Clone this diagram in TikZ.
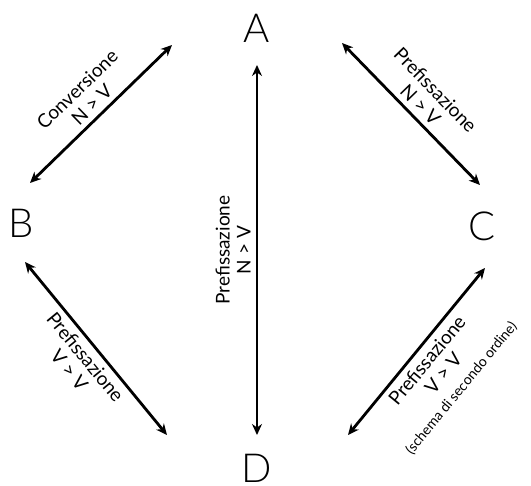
\documentclass[tikz,border=0pt]{standalone}
\usepackage{fontspec}
\setmainfont{Lato}
\newfontfamily\thinfont{Lato Light}
\usetikzlibrary{arrows.meta}
\begin{document}
\begin{tikzpicture}[x=1pt, y=-1pt, every node/.style={font=\fontsize{19}{21}\selectfont},
    letter/.style={font=\thinfont\fontsize{40}{40}\selectfont, inner sep=0pt},
    twoway/.style={{Stealth[length=11pt,width=10pt]}-{Stealth[length=11pt,width=10pt]}, line width=2.8pt},
    lbl/.style={midway, sloped, align=center, inner sep=5pt}]
    \useasboundingbox (0,0) rectangle (531,486);
    \node[letter] (a) at (257,28) {A};
    \node[letter] (b) at (21,223) {B};
    \node[letter] (c) at (482,226) {C};
    \node[letter] (d) at (257,468) {D};
    % arrow ends
    \coordinate (ab1) at (172,45);
    \coordinate (ab2) at (30,183);
    \coordinate (ac1) at (342,43);
    \coordinate (ac2) at (480,185);
    \coordinate (ad1) at (257,65);
    \coordinate (ad2) at (257,435);
    \coordinate (bd1) at (25,262);
    \coordinate (bd2) at (167,435);
    \coordinate (cd1) at (348,435);
    \coordinate (cd2) at (485,268);
    \draw[twoway] (ab2) -- node[lbl, above] {Conversione\\N > V} (ab1);
    \draw[twoway] (ac1) -- node[lbl, above] {Prefissazione\\N > V} (ac2);
    \draw[twoway] (ad2) -- node[lbl, above] {Prefissazione\\N > V} (ad1);
    \draw[twoway] (bd1) -- node[lbl, below] {Prefissazione\\V > V} (bd2);
    \draw[twoway] (cd1) -- node[lbl, below] {Prefissazione\\V > V\\{\fontsize{14}{16}\selectfont(schema di secondo ordine)}} (cd2);
\end{tikzpicture}
\end{document}
